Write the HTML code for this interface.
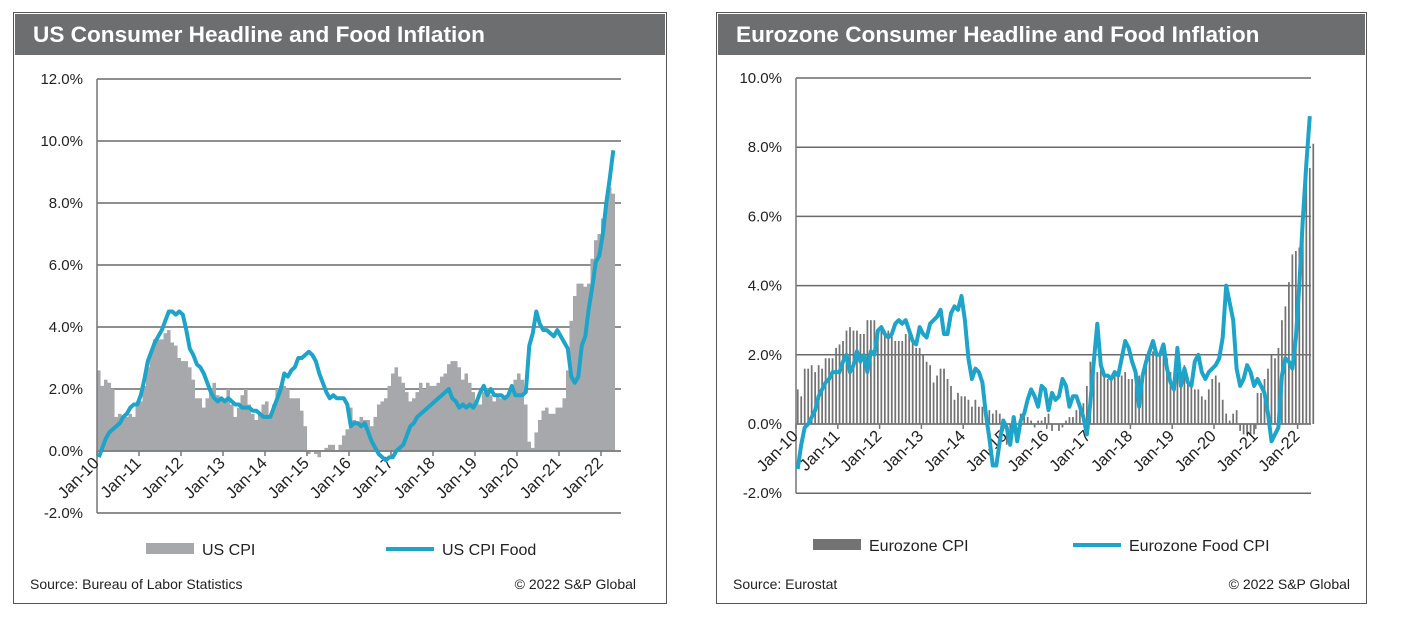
<!DOCTYPE html>
<html><head><meta charset="utf-8">
<style>
body{margin:0;background:#fff;width:1401px;height:622px;overflow:hidden;font-family:"Liberation Sans",Arial,sans-serif;}
.panel{position:absolute;top:12px;border:1px solid #555;background:#fff;}
.title{position:absolute;left:1px;top:1px;right:1px;height:41px;background:#6d6e70;color:#fff;font-weight:bold;font-size:22.6px;line-height:41px;padding-left:18px;box-sizing:border-box;}
svg{position:absolute;left:0;top:0;}
</style></head><body>
<div class="panel" id="p1" style="left:13px;width:652px;height:590px;">
 <div class="title">US Consumer Headline and Food Inflation</div>
 <svg id="s1" width="652" height="590"></svg>
</div>
<div class="panel" id="p2" style="left:716px;width:649px;height:590px;">
 <div class="title">Eurozone Consumer Headline and Food Inflation</div>
 <svg id="s2" width="649" height="590"></svg>
</div>
<script>
const yearLabels=["Jan-10","Jan-11","Jan-12","Jan-13","Jan-14","Jan-15","Jan-16","Jan-17","Jan-18","Jan-19","Jan-20","Jan-21","Jan-22"];
const usTicks=[12,10,8,6,4,2,0,-2];
const euTicks=[10,8,6,4,2,0,-2];
const usCpi=[2.6,2.1,2.3,2.2,2.0,1.1,1.2,1.1,1.1,1.2,1.1,1.5,
1.6,2.1,2.7,3.2,3.6,3.6,3.6,3.8,3.9,3.5,3.4,3.0,
2.9,2.9,2.7,2.3,1.7,1.7,1.4,1.7,2.0,2.2,1.8,1.7,
1.6,2.0,1.5,1.1,1.4,1.8,2.0,1.5,1.2,1.0,1.2,1.5,
1.6,1.1,1.5,2.0,2.1,2.1,2.0,1.7,1.7,1.7,1.3,0.8,
-0.1,0.0,-0.1,-0.2,0.0,0.1,0.2,0.2,0.0,0.2,0.5,0.7,
1.4,1.0,0.9,1.1,1.0,1.0,0.8,1.1,1.5,1.6,1.7,2.1,
2.5,2.7,2.4,2.2,1.9,1.6,1.7,1.9,2.2,2.0,2.2,2.1,
2.1,2.2,2.4,2.5,2.8,2.9,2.9,2.7,2.3,2.5,2.2,1.9,
1.6,1.5,1.9,2.0,1.8,1.6,1.8,1.7,1.7,1.8,2.1,2.3,
2.5,2.3,1.5,0.3,0.1,0.6,1.0,1.3,1.4,1.2,1.2,1.4,
1.4,1.7,2.6,4.2,5.0,5.4,5.4,5.3,5.4,6.2,6.8,7.0,
7.5,7.9,8.5,8.3];
const usFood=[-0.2,0.1,0.4,0.6,0.7,0.8,0.9,1.1,1.2,1.4,1.5,1.5,
1.8,2.3,2.9,3.2,3.5,3.7,3.9,4.2,4.5,4.5,4.4,4.5,
4.4,3.9,3.3,3.1,2.8,2.7,2.5,2.2,1.9,1.7,1.6,1.7,
1.6,1.7,1.6,1.5,1.5,1.4,1.4,1.4,1.3,1.3,1.2,1.1,
1.1,1.1,1.4,1.7,2.0,2.5,2.4,2.6,2.7,3.0,3.0,3.1,
3.2,3.1,2.9,2.5,2.2,1.9,1.7,1.8,1.7,1.7,1.7,1.5,
0.8,0.9,0.9,0.8,0.9,0.6,0.3,0.1,-0.1,-0.2,-0.3,-0.2,
-0.2,0.0,0.1,0.2,0.5,0.8,0.9,1.1,1.2,1.3,1.4,1.5,
1.6,1.7,1.8,1.9,2.0,1.7,1.6,1.4,1.5,1.4,1.5,1.4,
1.6,1.9,2.1,1.8,2.0,1.8,1.8,1.8,1.7,1.8,2.1,1.8,
1.8,1.8,1.9,3.4,3.8,4.5,4.1,3.9,3.9,3.8,3.7,3.9,
3.7,3.5,3.3,2.4,2.2,2.4,3.4,3.7,4.6,5.3,6.1,6.3,
7.0,8.0,8.8,9.7];
const euCpi=[1.0,0.8,1.6,1.6,1.7,1.5,1.7,1.6,1.9,1.9,1.9,2.2,
2.3,2.4,2.7,2.8,2.7,2.7,2.6,2.6,3.0,3.0,3.0,2.7,
2.7,2.7,2.7,2.6,2.4,2.4,2.4,2.6,2.6,2.5,2.2,2.2,
2.0,1.8,1.7,1.2,1.4,1.6,1.6,1.3,1.1,0.7,0.9,0.8,
0.8,0.7,0.5,0.7,0.5,0.5,0.4,0.4,0.3,0.4,0.3,-0.2,
-0.6,-0.3,-0.1,0.0,0.3,0.2,0.2,0.1,-0.1,0.1,0.1,0.2,
0.3,-0.2,0.0,-0.2,-0.1,0.1,0.2,0.2,0.4,0.5,0.6,1.1,
1.8,2.0,1.5,1.9,1.4,1.3,1.3,1.5,1.5,1.4,1.5,1.3,
1.3,1.1,1.4,1.2,2.0,2.0,2.1,2.0,2.1,2.3,1.9,1.5,
1.4,1.5,1.4,1.7,1.2,1.3,1.0,1.0,0.8,0.7,1.0,1.3,
1.4,1.2,0.7,0.3,0.1,0.3,0.4,-0.2,-0.3,-0.3,-0.3,-0.3,
0.9,0.9,1.3,1.6,2.0,1.9,2.2,3.0,3.4,4.1,4.9,5.0,
5.1,5.9,7.4,7.4,8.1];
const euFood=[-1.3,-0.6,-0.1,0.0,0.2,0.4,0.8,1.0,1.2,1.3,1.5,1.5,
1.5,1.8,2.0,1.5,1.7,2.1,1.8,2.0,1.5,2.1,2.0,2.7,
2.8,2.6,2.5,2.6,2.9,3.0,2.9,3.0,2.7,2.4,2.3,2.8,
2.6,2.5,2.9,3.0,3.1,3.3,2.6,2.6,3.2,3.4,3.3,3.7,
3.0,1.9,1.3,1.6,1.5,1.2,0.3,-0.4,-1.2,-1.2,-0.5,0.1,
-0.1,-0.6,0.2,-0.5,0.1,0.3,0.7,1.0,0.8,0.5,1.1,1.0,
0.4,0.9,0.7,0.8,1.3,1.1,0.5,0.8,0.8,0.5,0.2,-0.3,
0.6,1.8,2.9,1.7,1.4,1.4,1.3,1.5,1.4,1.9,2.4,2.2,
1.8,1.5,0.5,1.4,1.8,2.1,2.4,2.0,2.0,2.3,1.6,1.2,
1.0,2.2,1.1,1.6,1.2,1.1,1.8,2.0,1.5,1.3,1.5,1.6,
1.7,1.9,2.5,4.0,3.5,3.0,1.6,1.1,1.3,1.7,1.5,1.1,
1.3,1.1,0.9,0.3,-0.5,-0.3,-0.1,1.4,1.9,1.8,1.6,2.5,
4.0,5.9,7.5,8.9];

const NS="http://www.w3.org/2000/svg";
function mk(svg,tag,attrs,txt){const e=document.createElementNS(NS,tag);for(const k in attrs)e.setAttribute(k,attrs[k]);if(txt!==undefined)e.textContent=txt;svg.appendChild(e);return e;}

function draw(cfg){
 const svg=document.getElementById(cfg.id);
 const xOf=m=>cfg.x0+m*cfg.mw;
 const yOf=v=>cfg.yZero-v*cfg.ppu;
 cfg.ticks.forEach(t=>{
  const y=yOf(t);
  const g=mk(svg,'line',{x1:cfg.x0,x2:cfg.x1,y1:y,y2:y,stroke:'#6a6a6a','stroke-width':1.5});
  
  
  const l=mk(svg,'text',{x:cfg.x0-14,y:y+5,'text-anchor':'end','font-size':15,fill:'#222'},t.toFixed(1)+'%');
  
  
 });
 const bw=cfg.mw*cfg.barFrac;
 cfg.bars.forEach((v,i)=>{
  const xc=xOf(i)+cfg.mw/2;
  const y=yOf(Math.max(v,0)),h=Math.abs(v)*cfg.ppu;
  const r=mk(svg,'rect',{x:xc-bw/2,y:y,width:bw,height:Math.max(h,0.5),fill:cfg.barColor});
  
  
 });
 const ax=mk(svg,'line',{x1:cfg.x0,x2:cfg.x0,y1:yOf(cfg.ticks[0]),y2:yOf(cfg.ticks[cfg.ticks.length-1]),stroke:'#777','stroke-width':1.5});
 
 
 const z=mk(svg,'line',{x1:cfg.x0,x2:cfg.x1,y1:yOf(0),y2:yOf(0),stroke:'#777','stroke-width':1.5});
 
 
 yearLabels.forEach((lab,j)=>{
  const x=xOf(j*12);
  mk(svg,'line',{x1:x,x2:x,y1:yOf(0),y2:yOf(0)+5,stroke:'#777','stroke-width':1.5});
  const tx=x+3,ty=yOf(0)+13;
  const t=mk(svg,'text',{x:tx,y:ty,'text-anchor':'end','font-size':16.5,fill:'#222',transform:`rotate(-45 ${tx} ${ty})`},lab);
  
  
 });
 const pts=cfg.line.map((v,i)=>(xOf(i)+cfg.mw/2).toFixed(1)+','+yOf(v).toFixed(1)).join(' ');
 const pl=mk(svg,'polyline',{points:pts,fill:'none',stroke:'#1ea4c8','stroke-width':4,'stroke-linejoin':'round'});
 
 
 const ly=cfg.legY;
 const lb=mk(svg,'rect',{x:cfg.leg1x,y:ly-6,width:48,height:11,fill:cfg.barColor});
 
 
 const lt1=mk(svg,'text',{x:cfg.leg1x+56,y:ly+6,'font-size':16,fill:'#222'},cfg.name1);
 
 
 const ll=mk(svg,'line',{x1:cfg.leg2x,x2:cfg.leg2x+48,y1:ly,y2:ly,stroke:'#1ea4c8','stroke-width':4});
 
 
 const lt2=mk(svg,'text',{x:cfg.leg2x+56,y:ly+6,'font-size':16,fill:'#222'},cfg.name2);
 
 
 const s=mk(svg,'text',{x:16,y:576,'font-size':14,fill:'#222'},cfg.src);
 
 
 const c=mk(svg,'text',{x:cfg.copyX,y:576,'text-anchor':'end','font-size':14,fill:'#222'},'© 2022 S&P Global');
 
 
}
draw({id:'s1',x0:83,x1:607,mw:42/12,yZero:438,ppu:31,ticks:usTicks,bars:usCpi,line:usFood,barFrac:1.02,barColor:'#a6a8ab',
 legY:536,leg1x:132,leg2x:372,name1:'US CPI',name2:'US CPI Food',src:'Source: Bureau of Labor Statistics',copyX:622});
draw({id:'s2',x0:79,x1:594,mw:41.8/12,yZero:411,ppu:34.6,ticks:euTicks,bars:euCpi,line:euFood,barFrac:0.5,barColor:'#737373',
 legY:532,leg1x:96,leg2x:356,name1:'Eurozone CPI',name2:'Eurozone Food CPI',src:'Source: Eurostat',copyX:633});
</script>
</body></html>
